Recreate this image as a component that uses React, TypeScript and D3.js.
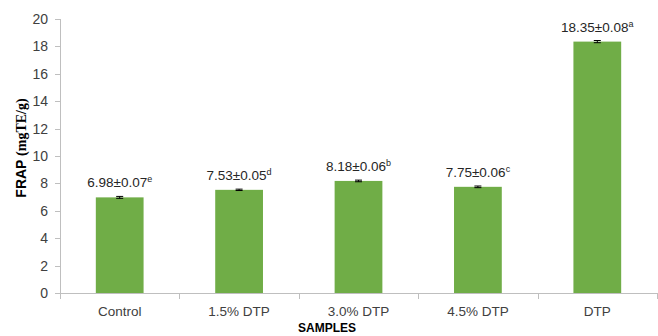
import React from "react";
import * as d3 from "d3";

const categories = ["Control", "1.5% DTP", "3.0% DTP", "4.5% DTP", "DTP"];
const means = [6.98, 7.53, 8.18, 7.75, 18.35];
const sds = [0.07, 0.05, 0.06, 0.06, 0.08];
const letters = ["e", "d", "b", "c", "a"];
const yTicks = [0, 2, 4, 6, 8, 10, 12, 14, 16, 18, 20];

const W = 658;
const H = 336;
const margin = { left: 60, right: 1, top: 19, bottom: 43 };

export default function App() {
  const x = d3
    .scaleBand<string>()
    .domain(categories)
    .range([margin.left, W - margin.right])
    .paddingInner(0.6)
    .paddingOuter(0.3);
  const y = d3.scaleLinear().domain([0, 20]).range([H - margin.bottom, margin.top]);
  const step = x.step();
  const x0 = margin.left;
  const x1 = W - margin.right;
  const font = "'Liberation Sans', Arial, sans-serif";
  const axisColor = "#bfbfbf";
  const textColor = "#404040";

  return (
    <svg
      width={W}
      height={H}
      style={{ position: "absolute", left: 0, top: 0, background: "#fff" }}
      fontFamily={font}
    >
      {/* y axis */}
      <line x1={x0 + 0.5} x2={x0 + 0.5} y1={y(20)} y2={y(0)} stroke={axisColor} />
      {yTicks.map((t) => (
        <g key={t}>
          <line x1={x0 - 5} x2={x0} y1={Math.round(y(t)) + 0.5} y2={Math.round(y(t)) + 0.5} stroke={axisColor} />
          <text x={x0 - 12} y={y(t)} dy="0.35em" textAnchor="end" fontSize={14} fill={textColor}>
            {t}
          </text>
        </g>
      ))}

      {/* bars with error bars and labels */}
      {categories.map((c, i) => {
        const bx = x(c)!;
        const bw = x.bandwidth();
        const cx = bx + bw / 2;
        const top = y(means[i]);
        const eTop = y(means[i] + sds[i]);
        const eBot = y(means[i] - sds[i]);
        return (
          <g key={c}>
            <rect x={bx} y={top} width={bw} height={y(0) - top} fill="#70ad47" />
            <line x1={cx} x2={cx} y1={eTop} y2={eBot} stroke="#000" strokeWidth={1} />
            <line x1={cx - 3.5} x2={cx + 3.5} y1={eTop} y2={eTop} stroke="#000" strokeWidth={1} />
            <line x1={cx - 3.5} x2={cx + 3.5} y1={eBot} y2={eBot} stroke="#000" strokeWidth={1} />
            <text x={cx} y={top - 10} textAnchor="middle" fontSize={13.5} fill="#262626">
              {`${means[i].toFixed(2)}±${sds[i].toFixed(2)}`}
              <tspan fontSize={9} dy={-5}>
                {letters[i]}
              </tspan>
            </text>
          </g>
        );
      })}

      {/* x axis */}
      <line x1={x0} x2={x1} y1={y(0) + 0.5} y2={y(0) + 0.5} stroke={axisColor} />
      {d3.range(categories.length + 1).map((k) => (
        <line
          key={k}
          x1={Math.round(x0 + k * step) + 0.5}
          x2={Math.round(x0 + k * step) + 0.5}
          y1={y(0)}
          y2={y(0) + 6}
          stroke={axisColor}
        />
      ))}
      {categories.map((c) => (
        <text key={c} x={x(c)! + x.bandwidth() / 2} y={316} textAnchor="middle" fontSize={13.5} fill={textColor}>
          {c}
        </text>
      ))}

      {/* axis titles */}
      <text x={327} y={332} textAnchor="middle" fontSize={12} fontWeight="bold" fill="#000">
        SAMPLES
      </text>
      <text
        transform={`translate(26, 148) rotate(-90)`}
        textAnchor="middle"
        fontSize={14}
        fontWeight="bold"
        fill="#000"
      >
        <tspan fontFamily={font}>FRAP </tspan>
        <tspan fontFamily="'Liberation Serif', 'Times New Roman', serif">(mgTE/g)</tspan>
      </text>
    </svg>
  );
}
